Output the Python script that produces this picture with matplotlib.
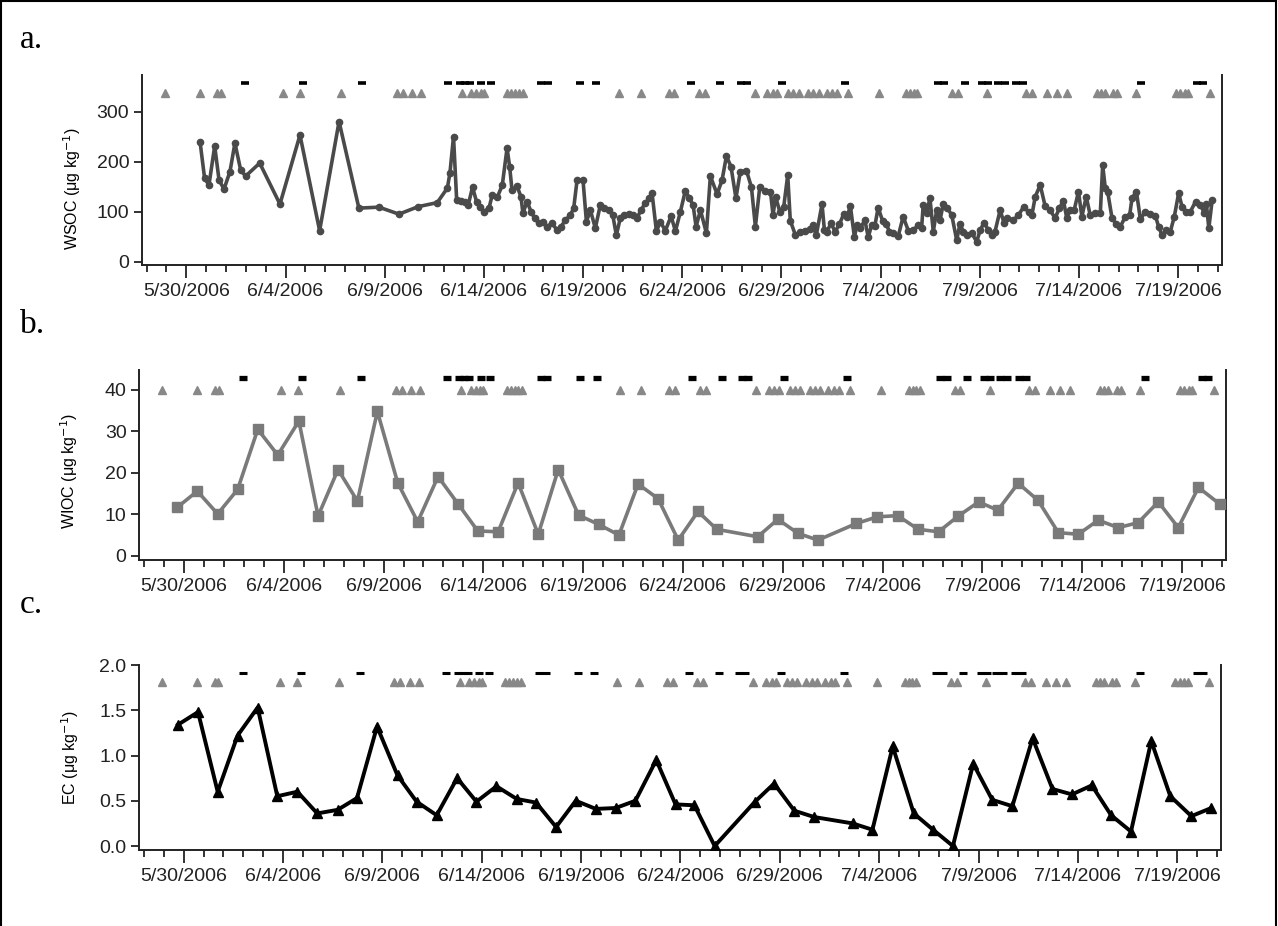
"""Three-panel time series: WSOC, WIOC and EC with event markers."""

import matplotlib
matplotlib.use("Agg")
import matplotlib.pyplot as plt
import matplotlib.dates as mdates
from matplotlib.ticker import FixedLocator, FuncFormatter
import numpy as np

# ---------------------------------------------------------------------------
# Data (times are days after 2006-05-30 00:00)
# ---------------------------------------------------------------------------
START = np.datetime64("2006-05-30T00:00")

wsoc_days = [
    0.69, 0.92, 1.14, 1.43, 1.65, 1.90, 2.20, 2.45, 2.74, 2.99, 3.70, 4.72,
    5.73, 6.72, 7.70, 8.70, 9.71, 10.72, 11.69, 12.65, 13.16, 13.29, 13.47,
    13.63, 13.83, 14.03, 14.21, 14.43, 14.63, 14.83, 15.00, 15.26, 15.42,
    15.68, 15.93, 16.17, 16.30, 16.42, 16.67, 16.87, 16.97, 17.18, 17.38,
    17.56, 17.76, 17.98, 18.18, 18.44, 18.69, 18.89, 19.11, 19.36, 19.53,
    19.70, 20.00, 20.17, 20.37, 20.62, 20.87, 21.08, 21.29, 21.50, 21.68,
    21.88, 22.08, 22.30, 22.52, 22.72, 22.92, 23.14, 23.34, 23.48, 23.70,
    23.90, 24.15, 24.44, 24.66, 24.91, 25.16, 25.36, 25.55, 25.70, 25.92,
    26.22, 26.42, 26.76, 27.01, 27.23, 27.46, 27.71, 27.93, 28.24, 28.49,
    28.69, 28.91, 29.19, 29.45, 29.58, 29.71, 29.92, 30.12, 30.32, 30.45,
    30.71, 30.96, 31.21, 31.46, 31.58, 31.76, 32.05, 32.17, 32.30, 32.50,
    32.71, 32.93, 33.14, 33.31, 33.48, 33.68, 33.82, 33.98, 34.21, 34.38,
    34.55, 34.71, 34.88, 35.10, 35.30, 35.44, 35.64, 35.89, 36.14, 36.40,
    36.65, 36.90, 37.07, 37.15, 37.32, 37.49, 37.66, 37.83, 38.00, 38.16,
    38.37, 38.59, 38.84, 39.00, 39.18, 39.38, 39.60, 39.85, 40.02, 40.22,
    40.44, 40.60, 40.77, 41.03, 41.23, 41.36, 41.70, 41.95, 42.21, 42.46,
    42.63, 42.80, 43.05, 43.30, 43.55, 43.80, 44.02, 44.22, 44.39, 44.56,
    44.76, 44.98, 45.15, 45.37, 45.57, 45.82, 46.08, 46.20, 46.33, 46.45,
    46.67, 46.89, 47.09, 47.34, 47.56, 47.68, 47.90, 48.10, 48.35, 48.60,
    48.86, 49.02, 49.19, 49.41, 49.61, 49.81, 50.03, 50.20, 50.42, 50.62,
    50.88, 51.13, 51.33, 51.43, 51.55, 51.72,
]
wsoc_vals = [
    240, 167, 153, 231, 163, 145, 180, 237, 183, 171, 197, 115,
    253, 62, 280, 107, 109, 95, 110, 118, 147, 177, 250,
    123, 122, 120, 113, 149, 120, 110, 100, 107, 133,
    129, 153, 227, 190, 143, 151, 130, 97, 120, 100,
    87, 77, 80, 70, 77, 63, 70, 83, 93, 107,
    163, 163, 80, 103, 67, 113, 107, 103, 93, 53,
    87, 93, 95, 93, 87, 103, 117, 127, 137, 61,
    80, 62, 91, 61, 100, 142, 127, 113, 70, 103,
    57, 171, 135, 163, 211, 190, 127, 180, 182, 149,
    70, 149, 142, 140, 93, 130, 100, 110, 173, 82,
    53, 60, 62, 65, 73, 53, 115, 63, 60, 77,
    60, 75, 95, 90, 111, 50, 73, 67, 83, 49,
    73, 71, 108, 82, 75, 60, 57, 51, 90, 62,
    63, 73, 67, 113, 97, 127, 60, 103, 83, 115,
    107, 93, 43, 75, 60, 53, 57, 40, 63, 78,
    63, 53, 60, 103, 77, 87, 83, 93, 109, 100,
    93, 130, 153, 111, 103, 87, 107, 122, 87, 103,
    103, 140, 90, 130, 93, 97, 97, 193, 147, 140,
    87, 75, 70, 90, 93, 127, 140, 85, 100, 95,
    91, 70, 53, 63, 60, 90, 137, 110, 100, 100,
    120, 113, 97, 115, 67, 123,
]

wioc_days = [
    -0.33, 0.67, 1.69, 2.69, 3.70, 4.70, 5.76, 6.72, 7.72, 8.69, 9.69,
    10.71, 11.71, 12.73, 13.72, 14.72, 15.74, 16.74, 17.75, 18.75, 19.77,
    20.77, 21.79, 22.75, 23.75, 24.76, 25.75, 26.69, 28.74, 29.75, 30.77,
    31.76, 33.68, 34.73, 35.75, 36.78, 37.80, 38.79, 39.81, 40.77, 41.79,
    42.78, 43.80, 44.80, 45.80, 46.80, 47.80, 48.81, 49.81, 50.82, 51.88,
]
wioc_vals = [
    11.7, 15.6, 10.1, 16.0, 30.5, 24.3, 32.5, 9.6, 20.8, 13.2, 34.8,
    17.6, 8.2, 19.1, 12.6, 6.0, 5.8, 17.6, 5.2, 20.8, 9.8,
    7.6, 5.0, 17.3, 13.8, 3.8, 10.7, 6.4, 4.6, 8.8, 5.4,
    3.8, 7.8, 9.4, 9.7, 6.4, 5.8, 9.6, 13.0, 11.0, 17.5,
    13.4, 5.6, 5.2, 8.6, 6.8, 8.0, 13.0, 6.8, 16.5, 12.5,
]

ec_days = [
    -0.29, 0.72, 1.71, 2.71, 3.72, 4.71, 5.72, 6.72, 7.75, 8.72, 9.73,
    10.76, 11.72, 12.73, 13.76, 14.73, 15.74, 16.76, 17.73, 18.74, 19.73,
    20.74, 21.74, 22.73, 23.78, 24.75, 25.70, 26.72, 28.75, 29.71, 30.73,
    31.73, 33.66, 34.66, 35.68, 36.74, 37.71, 38.71, 39.73, 40.69, 41.70,
    42.72, 43.72, 44.70, 45.70, 46.67, 47.67, 48.69, 49.65, 50.71, 51.71,
]
ec_vals = [
    1.34, 1.48, 0.60, 1.22, 1.53, 0.55, 0.60, 0.36, 0.40, 0.53, 1.32,
    0.78, 0.49, 0.34, 0.75, 0.49, 0.66, 0.52, 0.48, 0.21, 0.50,
    0.41, 0.42, 0.50, 0.95, 0.46, 0.45, 0.00, 0.49, 0.69, 0.39,
    0.32, 0.25, 0.18, 1.10, 0.36, 0.18, 0.00, 0.91, 0.51, 0.44,
    1.19, 0.63, 0.57, 0.67, 0.34, 0.16, 1.16, 0.55, 0.33, 0.42,
]

# event markers shared by all panels
triangle_days = [
    -1.10, 0.67, 1.55, 1.75, 4.85, 5.72, 7.80, 10.60, 10.90, 11.40, 11.85,
    13.88, 14.37, 14.62, 14.85, 15.00, 16.18, 16.38, 16.57, 16.76, 16.96,
    21.82, 22.90, 24.32, 24.60, 25.84, 26.15, 28.65, 29.30, 29.58, 29.80,
    30.35, 30.60, 30.88, 31.34, 31.60, 31.88, 32.28, 32.55, 32.80, 33.38,
    34.90, 36.30, 36.50, 36.67, 36.86, 38.62, 38.90, 40.36, 42.32, 42.64,
    43.40, 43.88, 44.38, 45.90, 46.10, 46.30, 46.73, 46.92, 47.87, 49.88,
    50.12, 50.33, 50.52, 51.62,
]
dash_days = [
    2.97, 5.90, 8.87, 13.19, 13.80, 14.05, 14.30, 14.87, 15.35, 17.87,
    18.21, 19.84, 20.67, 25.43, 26.93, 27.95, 28.25, 30.05, 33.23, 37.88,
    38.22, 39.24, 40.10, 40.40, 40.90, 41.25, 41.85, 42.20, 48.12, 50.98,
    51.28,
]

xtick_dates = ["2006-05-30", "2006-06-04", "2006-06-09", "2006-06-14",
               "2006-06-19", "2006-06-24", "2006-06-29", "2006-07-04",
               "2006-07-09", "2006-07-14", "2006-07-19"]


def to_dates(days):
    mins = np.round(np.asarray(days, dtype=float) * 1440).astype(np.int64)
    return START + mins.astype("timedelta64[m]")


def date_label(x, pos=None):
    d = mdates.num2date(x)
    return f"{d.month}/{d.day}/{d.year}"


plt.rcParams["font.family"] = ["Liberation Sans", "DejaVu Sans"]

W, H = 1278, 926
fig = plt.figure(figsize=(W / 100, H / 100), dpi=100)


def px_axes(left, top, right, bottom):
    return fig.add_axes([left / W, 1 - bottom / H, (right - left) / W, (bottom - top) / H])


panels = [
    dict(box=(141.7, 75, 1221.7, 265), days=wsoc_days, vals=wsoc_vals,
         ylim=(-6.6, 373), yticks=[0, 100, 200, 300], tri=337, dash=358,
         ylabel="WSOC (μg kg$^{-1}$)", label_y=0.40, color="#4a4a4a",
         marker="o", ms=4.5, lw=2.6, dash_mew=2.6, tag="a.", tag_y=40),
    dict(box=(139, 370, 1226, 560), days=wioc_days, vals=wioc_vals,
         ylim=(-1.0, 44.8), yticks=[0, 10, 20, 30, 40], tri=40, dash=42.8,
         ylabel="WIOC (μg kg$^{-1}$)", label_y=0.47, color="#7a7a7a",
         marker="s", ms=6.5, lw=2.6, dash_mew=3.8, tag="b.", tag_y=325),
    dict(box=(139, 665, 1221, 850), days=ec_days, vals=ec_vals,
         ylim=(-0.044, 2.0), yticks=[0.0, 0.5, 1.0, 1.5, 2.0], tri=1.81, dash=1.91,
         ylabel="EC (μg kg$^{-1}$)", label_y=0.5, color="black",
         marker="^", ms=6.5, lw=2.8, dash_mew=2.2, tag="c.", tag_y=605),
]

xlo, xhi = to_dates([-2.25, 52.2])

for p in panels:
    ax = px_axes(*p["box"])
    ax.plot(to_dates(p["days"]), p["vals"], color=p["color"], lw=p["lw"],
            marker=p["marker"], ms=p["ms"], mfc=p["color"], mec=p["color"],
            zorder=3)
    ax.plot(to_dates(triangle_days), np.full(len(triangle_days), p["tri"]),
            ls="none", marker="^", ms=5.8, color="#888888", zorder=2)
    ax.plot(to_dates(dash_days), np.full(len(dash_days), p["dash"]),
            ls="none", marker="_", ms=6, mew=p["dash_mew"], color="black", zorder=2)

    ax.set_xlim(xlo, xhi)
    ax.set_ylim(*p["ylim"])
    ax.set_yticks(p["yticks"])
    if p["tag"] == "c.":
        ax.set_yticklabels([f"{v:.1f}" for v in p["yticks"]])
    ax.xaxis.set_major_locator(FixedLocator(mdates.datestr2num(xtick_dates)))
    ax.xaxis.set_major_formatter(FuncFormatter(date_label))
    ax.xaxis.set_minor_locator(mdates.DayLocator())

    ax.spines["top"].set_visible(False)
    for s in ("left", "bottom", "right"):
        ax.spines[s].set_linewidth(1.4)
        ax.spines[s].set_color("#222222")
    ax.tick_params(axis="x", which="major", direction="out", length=9, width=1.3,
                   labelsize=14, pad=4, colors="#222222")
    ax.tick_params(axis="x", which="minor", direction="out", length=5, width=1.3,
                   colors="#222222")
    ax.tick_params(axis="y", direction="out", length=6, width=1.3,
                   labelsize=14, pad=3, colors="#222222")
    ax.set_ylabel(p["ylabel"], fontsize=11.5)
    ax.yaxis.set_label_coords(-0.054, p["label_y"])

    fig.text(20 / W, 1 - p["tag_y"] / H, p["tag"], fontsize=24,
             family="Liberation Serif", va="center", ha="left")

# page frame
fig.add_artist(plt.Line2D([1 / W, 1 / W], [0, 1 - 1 / H], color="black", lw=1.5))
fig.add_artist(plt.Line2D([1 / W, 1 - 2 / W], [1 - 1 / H, 1 - 1 / H], color="black", lw=1.5))
fig.add_artist(plt.Line2D([1 - 2 / W, 1 - 2 / W], [1 - 1 / H, 0], color="black", lw=1.5))

fig.savefig("out.png", dpi=100)
